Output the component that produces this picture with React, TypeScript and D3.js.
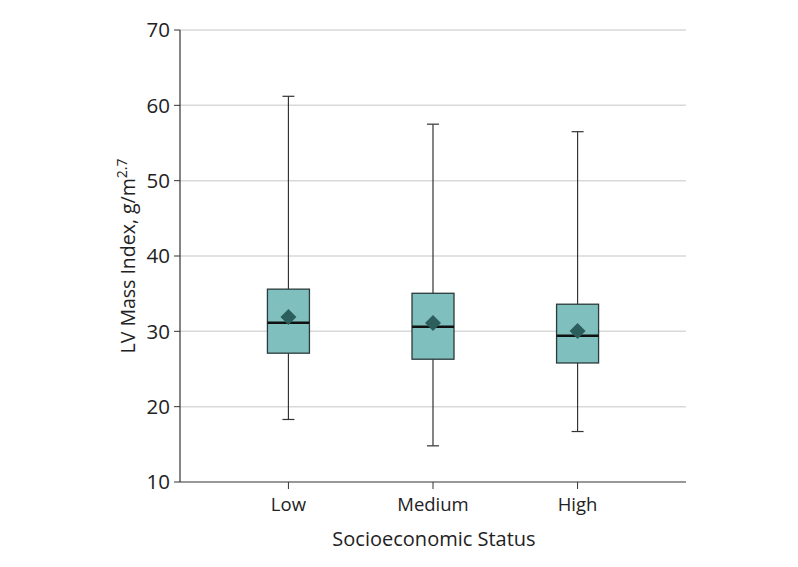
import React from "react";
import * as d3 from "d3";

const categories = ["Low", "Medium", "High"];
const whiskerLow = [18.3, 14.8, 16.7];
const q1 = [27.1, 26.3, 25.8];
const median = [31.15, 30.6, 29.4];
const q3 = [35.6, 35.05, 33.6];
const whiskerHigh = [61.2, 57.5, 56.5];
const means = [31.9, 31.1, 30.05];
const yTicks = [10, 20, 30, 40, 50, 60, 70];

const W = 798, H = 567;
const left = 180, right = 686, top = 30, bottom = 482;
const font = "'Open Sans', 'DejaVu Sans', sans-serif";

export default function App() {
  const x = d3.scalePoint<string>().domain(categories).range([left, right]).padding(0.75);
  const y = d3.scaleLinear().domain([10, 70]).range([bottom, top]);
  const boxW = 42;
  const capW = 12;
  const d = 8;
  return (
    <svg width={W} height={H} style={{ position: "absolute", left: 0, top: 0, background: "#fff" }}>
      {yTicks.map((t) => (
        <g key={t}>
          {t > 10 && <line x1={left} x2={right} y1={y(t)} y2={y(t)} stroke="#d9d9d9" strokeWidth={1.5} />}
          <line x1={left - 6} x2={left} y1={y(t)} y2={y(t)} stroke="#333" strokeWidth={1} />
          <text x={left - 10} y={y(t)} dy="0.36em" textAnchor="end" fontSize={20.5} fontFamily={font} fill="#222">{t}</text>
        </g>
      ))}
      <line x1={left} x2={left} y1={top} y2={bottom} stroke="#333" strokeWidth={1.2} />
      <line x1={left} x2={right} y1={bottom} y2={bottom} stroke="#333" strokeWidth={1.2} />
      {categories.map((c, i) => {
        const cx = x(c)!;
        return (
          <g key={c}>
            <line x1={cx} x2={cx} y1={bottom} y2={bottom + 7} stroke="#333" />
            <text x={cx} y={bottom + 29} textAnchor="middle" fontSize={18.5} fontFamily={font} fill="#222">{c}</text>
            <line x1={cx} x2={cx} y1={y(whiskerHigh[i])} y2={y(q3[i])} stroke="#333" strokeWidth={1.2} />
            <line x1={cx} x2={cx} y1={y(q1[i])} y2={y(whiskerLow[i])} stroke="#333" strokeWidth={1.2} />
            <line x1={cx - capW / 2} x2={cx + capW / 2} y1={y(whiskerHigh[i])} y2={y(whiskerHigh[i])} stroke="#333" strokeWidth={1.2} />
            <line x1={cx - capW / 2} x2={cx + capW / 2} y1={y(whiskerLow[i])} y2={y(whiskerLow[i])} stroke="#333" strokeWidth={1.2} />
            <rect x={cx - boxW / 2} y={y(q3[i])} width={boxW} height={y(q1[i]) - y(q3[i])} fill="#7fc0bf" stroke="#2b3a3a" strokeWidth={1.3} />
            <line x1={cx - boxW / 2} x2={cx + boxW / 2} y1={y(median[i])} y2={y(median[i])} stroke="#111" strokeWidth={2.5} />
            <path d={`M${cx},${y(means[i]) - d} L${cx + d},${y(means[i])} L${cx},${y(means[i]) + d} L${cx - d},${y(means[i])} Z`} fill="#2b5e5c" />
          </g>
        );
      })}
      <text x={(left + right) / 2 + 1} y={546} textAnchor="middle" fontSize={20} fontFamily={font} fill="#222">Socioeconomic Status</text>
      <text transform={`translate(135,${(top + bottom) / 2}) rotate(-90)`} textAnchor="middle" fontSize={19.5} fontFamily={font} fill="#222">
        LV Mass Index, g/m<tspan dy="-8" fontSize={14}>2.7</tspan>
      </text>
    </svg>
  );
}
